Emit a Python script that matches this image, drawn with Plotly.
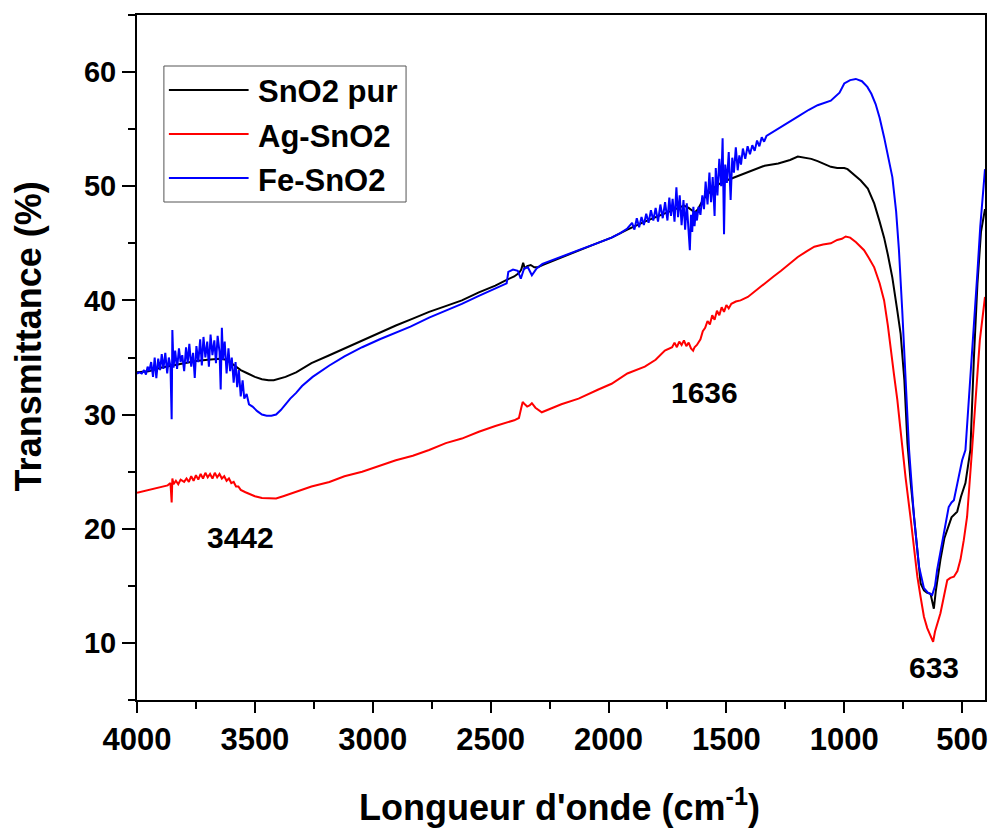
import plotly.graph_objects as go

# ---- FTIR spectra (wavenumber in cm-1, transmittance in %) ----
series_names = ["SnO2 pur", "Ag-SnO2", "Fe-SnO2"]
series_colors = ["#000000", "#ff0000", "#0000ff"]

sno2_wn = [4000, 3950, 3900, 3850, 3800, 3750, 3700, 3650, 3620, 3600, 3580, 3560, 3530, 3500,
           3470, 3442, 3420, 3400, 3370, 3325, 3260, 3184, 3120, 3045, 2973, 2902, 2830, 2761,
           2691, 2622, 2550, 2480, 2432, 2400, 2380, 2370, 2362, 2355, 2345, 2330, 2315, 2300,
           2280, 2268, 2200, 2127, 2050, 1987, 1920, 1846, 1775, 1705, 1680, 1660, 1645, 1634,
           1620, 1600, 1570, 1540, 1500, 1451, 1400, 1338, 1280, 1230, 1197, 1170, 1140, 1113,
           1080, 1057, 1030, 1000, 986, 960, 930, 900, 873, 850, 831, 815, 796, 775, 761, 745,
           732, 718, 704, 690, 676, 662, 650, 634, 627, 620, 612, 600, 592, 575, 563, 545, 521,
           505, 486, 465, 450, 435, 420, 403]
sno2_T = [33.7, 33.8, 34.1, 34.3, 34.5, 34.7, 34.8, 34.9, 34.8, 34.5, 34.2, 33.9, 33.6, 33.3,
          33.1, 33.0, 33.0, 33.1, 33.3, 33.7, 34.5, 35.2, 35.8, 36.5, 37.2, 37.8, 38.4, 39.0,
          39.5, 40.0, 40.7, 41.3, 41.8, 42.1, 42.4, 42.7, 43.3, 42.8, 43.0, 43.1, 42.9, 42.9,
          43.1, 43.2, 43.8, 44.4, 45.0, 45.5, 46.2, 46.9, 47.5, 48.1, 48.3, 48.1, 47.9, 47.7,
          48.0, 48.8, 49.5, 50.1, 50.5, 50.9, 51.3, 51.8, 52.0, 52.3, 52.6, 52.5, 52.4, 52.2,
          51.9, 51.7, 51.6, 51.6, 51.5, 51.0, 50.5, 49.8, 48.5, 46.9, 45.5, 44.0, 42.0, 39.1,
          37.1, 33.0, 27.5, 24.0, 21.0, 18.0, 15.2, 14.6, 14.4, 14.3, 13.6, 13.0, 14.5, 16.3,
          17.3, 19.2, 20.0, 21.0, 21.5, 22.8, 24.0, 26.9, 35.0, 41.5, 46.0, 48.0]

ag_wn = [4000, 3950, 3900, 3870, 3858, 3853, 3850, 3845, 3835, 3825, 3815, 3800, 3790, 3780,
         3770, 3760, 3750, 3740, 3730, 3720, 3710, 3700, 3690, 3680, 3670, 3660, 3650, 3640,
         3630, 3620, 3610, 3600, 3590, 3580, 3570, 3560, 3540, 3520, 3500, 3470, 3440, 3410,
         3380, 3350, 3325, 3260, 3184, 3120, 3045, 2970, 2902, 2830, 2761, 2690, 2622, 2550,
         2480, 2400, 2380, 2370, 2364, 2355, 2345, 2335, 2325, 2310, 2290, 2283, 2200, 2127,
         2043, 1987, 1920, 1846, 1800, 1761, 1730, 1720, 1710, 1700, 1690, 1680, 1670, 1660,
         1650, 1641, 1635, 1625, 1610, 1600, 1590, 1580, 1570, 1560, 1550, 1540, 1530, 1520,
         1510, 1500, 1490, 1479, 1460, 1440, 1409, 1380, 1338, 1300, 1268, 1230, 1197, 1160,
         1127, 1090, 1057, 1030, 1010, 994, 975, 950, 916, 895, 873, 850, 831, 815, 803, 789,
         775, 754, 740, 719, 705, 690, 676, 662, 648, 634, 623, 615, 605, 592, 578, 563, 550,
         535, 520, 507, 493, 479, 458, 440, 425, 403]
ag_T = [23.15, 23.4, 23.7, 23.8, 24.0, 22.3, 24.4, 23.9, 24.2, 23.9, 24.3, 24.1, 24.4, 24.1,
        24.6, 24.2, 24.7, 24.3, 24.8, 24.4, 24.9, 24.5, 24.8, 24.4, 24.9, 24.5, 24.8, 24.4,
        24.6, 24.2, 24.4, 24.0, 24.1, 23.7, 23.7, 23.4, 23.2, 23.0, 22.85, 22.7, 22.65, 22.65,
        22.85, 23.05, 23.2, 23.7, 24.1, 24.6, 25.0, 25.5, 26.0, 26.4, 26.9, 27.5, 27.9, 28.5,
        29.0, 29.5, 29.7, 30.6, 31.1, 30.9, 30.7, 30.8, 31.0, 30.6, 30.3, 30.2, 30.9, 31.4,
        32.2, 32.7, 33.6, 34.2, 34.8, 35.6, 35.9, 36.3, 35.9, 36.4, 36.1, 36.5, 36.0, 36.3,
        35.8, 35.6, 35.9, 36.1, 36.6, 37.3, 37.6, 38.2, 37.9, 38.7, 38.3, 39.1, 38.7, 39.4,
        39.0, 39.6, 39.3, 39.7, 39.9, 40.0, 40.3, 40.8, 41.5, 42.1, 42.6, 43.2, 43.8, 44.3,
        44.7, 44.9, 45.0, 45.3, 45.4, 45.6, 45.5, 45.1, 44.4, 43.7, 42.9, 41.5, 40.0, 37.8,
        35.6, 33.5, 31.3, 26.9, 24.5, 21.0, 18.3, 15.8, 14.0, 12.3, 11.3, 10.55, 10.1, 11.0,
        11.8, 12.6, 14.0, 15.5, 15.7, 15.8, 16.3, 17.3, 19.0, 21.05, 26.9, 32.0, 36.5, 40.3]

fe_wn = [4000, 3990, 3980, 3970, 3962, 3955, 3948, 3940, 3932, 3925, 3918, 3910, 3902, 3895,
         3888, 3880, 3872, 3865, 3858, 3853, 3850, 3845, 3838, 3830, 3822, 3815, 3808, 3800,
         3792, 3785, 3778, 3770, 3762, 3755, 3748, 3740, 3732, 3725, 3718, 3710, 3702, 3695,
         3688, 3680, 3672, 3665, 3658, 3650, 3645, 3640, 3635, 3628, 3620, 3612, 3605, 3598,
         3590, 3582, 3575, 3568, 3560, 3552, 3545, 3535, 3525, 3510, 3490, 3470, 3450, 3430,
         3410, 3390, 3370, 3350, 3325, 3300, 3255, 3184, 3120, 3045, 2970, 2902, 2840, 2761,
         2690, 2622, 2550, 2470, 2432, 2425, 2405, 2385, 2372, 2358, 2342, 2325, 2305, 2280,
         2200, 2127, 2050, 1987, 1950, 1920, 1900, 1890, 1880, 1870, 1860, 1850, 1840, 1830,
         1820, 1810, 1800, 1790, 1780, 1770, 1760, 1750, 1742, 1735, 1728, 1720, 1712, 1705,
         1698, 1690, 1682, 1675, 1668, 1660, 1655, 1650, 1645, 1640, 1635, 1630, 1625, 1618,
         1610, 1602, 1595, 1588, 1580, 1572, 1565, 1558, 1550, 1545, 1538, 1530, 1522, 1516,
         1510, 1505, 1498, 1490, 1482, 1475, 1468, 1460, 1452, 1445, 1438, 1430, 1420, 1410,
         1400, 1390, 1380, 1370, 1360, 1350, 1340, 1330, 1300, 1250, 1197, 1150, 1113, 1057,
         1020, 1000, 975, 951, 925, 902, 885, 867, 850, 831, 815, 796, 780, 768, 754, 740,
         725, 704, 683, 662, 645, 627, 615, 606, 590, 578, 557, 545, 535, 520, 500, 486, 465,
         451, 435, 423, 403]
fe_T = [33.6, 33.7, 33.6, 33.9, 33.5, 34.2, 33.8, 34.6, 33.3, 35.0, 33.2, 34.9, 33.9, 35.3,
        34.0, 35.4, 33.6, 35.0, 34.2, 29.6, 37.4, 34.1, 35.6, 34.0, 35.8, 34.6, 35.2, 33.8,
        35.9, 34.5, 36.2, 34.2, 35.4, 33.2, 36.0, 34.6, 36.6, 34.3, 36.8, 35.0, 36.4, 34.2,
        37.0, 35.2, 36.5, 34.5, 36.9, 35.5, 32.2, 37.6, 34.8, 36.4, 33.6, 35.8, 33.8, 35.0,
        32.8, 34.6, 32.4, 33.9, 31.6, 33.0, 31.4, 31.8, 30.9, 30.7, 30.3, 30.0, 29.9, 29.9,
        30.0, 30.4, 30.9, 31.4, 31.9, 32.5, 33.3, 34.3, 35.1, 35.9, 36.6, 37.2, 37.7, 38.5,
        39.1, 39.7, 40.4, 41.1, 41.5, 42.5, 42.7, 42.6, 41.9, 42.8, 42.9, 42.2, 42.8, 43.2,
        43.8, 44.4, 45.0, 45.5, 45.9, 46.3, 46.8, 46.2, 47.2, 46.4, 47.3, 46.6, 47.6, 46.8,
        47.9, 47.0, 48.1, 46.9, 48.4, 47.2, 48.6, 47.0, 49.0, 47.4, 48.9, 46.9, 49.9, 47.3,
        49.2, 46.6, 48.8, 46.2, 48.5, 45.7, 44.4, 47.5, 46.0, 48.2, 46.5, 47.8, 47.0, 48.2,
        47.5, 49.2, 48.0, 50.4, 48.4, 51.2, 48.6, 50.8, 47.4, 51.6, 49.2, 52.4, 50.0, 54.2,
        45.8, 51.9, 50.3, 53.0, 48.8, 52.5, 51.2, 53.4, 51.4, 52.7, 51.9, 53.3, 52.4, 53.5,
        52.8, 53.6, 53.1, 54.0, 53.5, 54.3, 53.9, 54.4, 54.8, 55.4, 56.1, 56.7, 57.1, 57.5,
        58.2, 59.0, 59.3, 59.4, 59.2, 58.7, 58.1, 57.2, 56.0, 54.3, 52.7, 50.8, 47.8, 44.4,
        39.1, 33.0, 26.9, 21.0, 16.7, 14.8, 14.4, 14.2, 15.0, 16.4, 18.2, 19.6, 21.9, 22.3,
        22.5, 24.0, 26.0, 26.9, 33.0, 37.7, 42.5, 46.5, 51.5]

# Band assignments labelled on the plot
band_labels = ["3442", "1636", "633"]
band_label_x = [3560, 1591, 618]
band_label_y = [19.2, 31.96, 7.81]

x_tick_vals = [4000, 3500, 3000, 2500, 2000, 1500, 1000, 500]
y_tick_vals = [10, 20, 30, 40, 50, 60]

FONT = "Liberation Sans, Arial, sans-serif"

fig = go.Figure()
for name, color, wn, tr in zip(series_names, series_colors,
                               [sno2_wn, ag_wn, fe_wn], [sno2_T, ag_T, fe_T]):
    fig.add_trace(go.Scatter(x=wn, y=tr, mode="lines", name=name,
                             line=dict(color=color, width=2), showlegend=False))

W, H = 994, 832
L, R, T, B = 137, 6, 15, 132
pw, ph = W - L - R, H - T - B


def px(xp):
    return (xp - L) / pw


def py(yp):
    return (H - B - yp) / ph


shapes = []
annotations = []

# legend frame, sample lines and entries
shapes.append(dict(type="rect", xref="paper", yref="paper",
                   x0=px(164), x1=px(407), y0=py(202), y1=py(66),
                   line=dict(color="#555555", width=1), fillcolor="white", layer="above"))
for i, (name, color) in enumerate(zip(series_names, series_colors)):
    yc = 90 + 44 * i
    shapes.append(dict(type="line", xref="paper", yref="paper",
                       x0=px(169), x1=px(249), y0=py(yc), y1=py(yc),
                       line=dict(color=color, width=2), layer="above"))
    annotations.append(dict(xref="paper", yref="paper", x=px(256), y=py(yc + 2),
                            xanchor="left", yanchor="middle", showarrow=False, text=name,
                            font=dict(family=FONT, size=31, color="black", weight="bold")))

for lab, lx, ly in zip(band_labels, band_label_x, band_label_y):
    annotations.append(dict(xref="x", yref="y", x=lx, y=ly, text=lab, showarrow=False,
                            xanchor="center", yanchor="middle",
                            font=dict(family=FONT, size=30, color="black", weight="bold")))

# axis titles
annotations.append(dict(xref="paper", yref="paper", x=px(561), y=py(805),
                        xanchor="center", yanchor="middle", showarrow=False,
                        text="Longueur d'onde (cm<sup>-1</sup>)",
                        font=dict(family=FONT, size=36, color="black", weight="bold")))
annotations.append(dict(xref="paper", yref="paper", x=px(28), y=py(336),
                        xanchor="center", yanchor="middle", showarrow=False, textangle=-90,
                        text="Transmittance (%)",
                        font=dict(family=FONT, size=36, color="black", weight="bold")))

fig.update_layout(
    width=W, height=H,
    margin=dict(l=L, r=R, t=T, b=B),
    paper_bgcolor="white", plot_bgcolor="white",
    shapes=shapes, annotations=annotations,
    showlegend=False,
    xaxis=dict(range=[4000, 403], tickmode="array", tickvals=x_tick_vals,
               ticks="outside", ticklen=11, tickwidth=2, tickcolor="black",
               showline=True, linewidth=2, linecolor="black", mirror=True,
               showgrid=False, zeroline=False,
               tickfont=dict(family=FONT, size=31, color="black", weight="bold"),
               minor=dict(dtick=250, tick0=0, ticks="outside", ticklen=7, tickwidth=2,
                          tickcolor="black", showgrid=False)),
    yaxis=dict(range=[5, 65], tickmode="array", tickvals=y_tick_vals,
               ticks="outside", ticklen=13, tickwidth=2, tickcolor="black",
               showline=True, linewidth=2, linecolor="black", mirror=True,
               showgrid=False, zeroline=False,
               tickfont=dict(family=FONT, size=29, color="black", weight="bold"),
               minor=dict(dtick=5, tick0=0, ticks="outside", ticklen=7, tickwidth=2,
                          tickcolor="black", showgrid=False)),
)

fig.write_html("out.html")
